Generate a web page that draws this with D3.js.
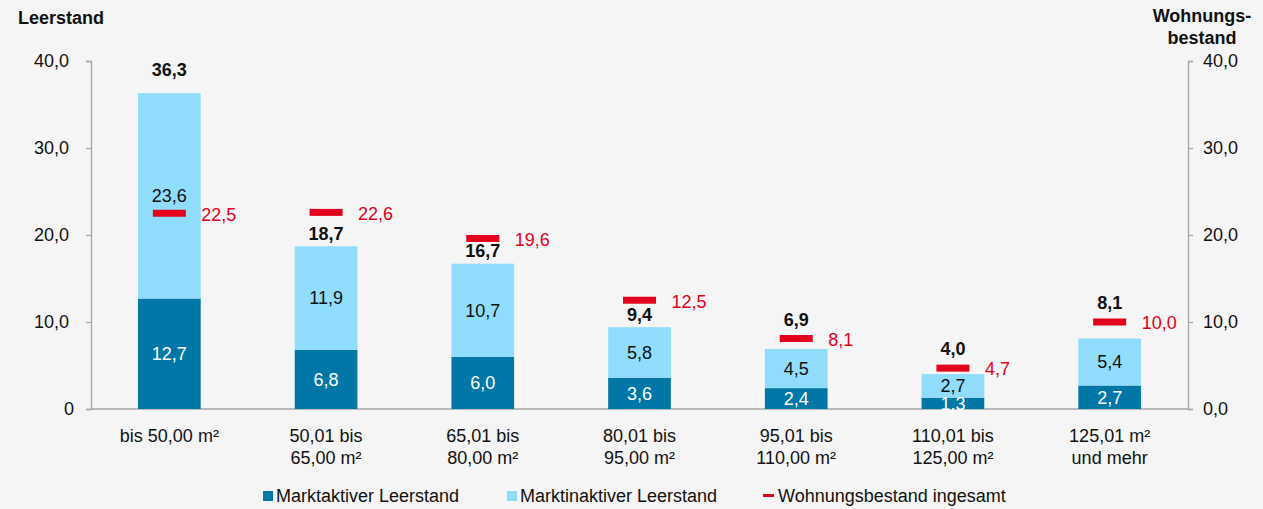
<!DOCTYPE html>
<html>
<head>
<meta charset="utf-8">
<script src="https://cdn.jsdelivr.net/npm/d3@7/dist/d3.min.js"></script>
<style>
  html, body { margin: 0; padding: 0; background: #f5f5f5; }
  svg { display: block; font-family: "Liberation Sans", Arial, sans-serif; }
</style>
</head>
<body>
<svg id="chart" width="1263" height="509"></svg>
<script>
// Leerstand nach Wohnungsgröße
const categories = [
  ["bis 50,00 m²"],
  ["50,01 bis", "65,00 m²"],
  ["65,01 bis", "80,00 m²"],
  ["80,01 bis", "95,00 m²"],
  ["95,01 bis", "110,00 m²"],
  ["110,01 bis", "125,00 m²"],
  ["125,01 m²", "und mehr"]
];
const marktaktiv   = [12.7, 6.8, 6.0, 3.6, 2.4, 1.3, 2.7];
const marktinaktiv = [23.6, 11.9, 10.7, 5.8, 4.5, 2.7, 5.4];
const totals       = [36.3, 18.7, 16.7, 9.4, 6.9, 4.0, 8.1];
const bestand      = [22.5, 22.6, 19.6, 12.5, 8.1, 4.7, 10.0];
const leftTicks  = [0, 10, 20, 30, 40];
const rightTicks = [0, 10, 20, 30, 40];
const legendItems = ["Marktaktiver Leerstand", "Marktinaktiver Leerstand", "Wohnungsbestand ingesamt"];

const colDark = "#0077a6", colLight = "#8fdcfd", colRed = "#e2001a", axisCol = "#a6a6a6";
const FS = 18;
const fmt = v => v.toFixed(1).replace(".", ",");

const svg = d3.select("#chart");
const plotLeft = 91, plotRight = 1188, plotTop = 61, plotBottom = 409;

const x = d3.scaleBand().domain(d3.range(categories.length)).range([plotLeft, plotRight])
  .paddingInner(0.6).paddingOuter(0.3);
const y = d3.scaleLinear().domain([0, 40]).range([plotBottom, plotTop]);

// axes
const yLeft = d3.axisLeft(y).tickValues(leftTicks).tickSize(5).tickPadding(17)
  .tickFormat(d => d === 0 ? "0" : fmt(d));
const gL = svg.append("g").attr("transform", `translate(${plotLeft},0)`).call(yLeft);
gL.selectAll(".tick text").filter(d => d === 0).attr("dx", 5);
const yRight = d3.axisRight(y).tickValues(rightTicks).tickSize(5).tickPadding(10).tickFormat(fmt);
const gR = svg.append("g").attr("transform", `translate(${plotRight},0)`).call(yRight);
[gL, gR].forEach(g => {
  g.select(".domain").attr("stroke", axisCol).attr("stroke-width", 1.3);
  g.selectAll(".tick line").attr("stroke", axisCol).attr("stroke-width", 1.3);
  g.selectAll(".tick text").attr("font-size", FS).attr("fill", "#111")
    .attr("font-family", "Liberation Sans, Arial, sans-serif");
});
// baseline
svg.append("line").attr("x1", plotLeft).attr("x2", plotRight).attr("y1", y(0)).attr("y2", y(0))
  .attr("stroke", axisCol).attr("stroke-width", 1.3);

// stacked bars
const g = svg.append("g");
categories.forEach((c, i) => {
  const bx = x(i), bw = x.bandwidth();
  g.append("rect").attr("x", bx).attr("width", bw)
    .attr("y", y(marktaktiv[i])).attr("height", y(0) - y(marktaktiv[i])).attr("fill", colDark);
  g.append("rect").attr("x", bx).attr("width", bw)
    .attr("y", y(marktaktiv[i] + marktinaktiv[i]))
    .attr("height", y(marktaktiv[i]) - y(marktaktiv[i] + marktinaktiv[i]))
    .attr("fill", colLight);
  const cx = bx + bw / 2;
  g.append("text").attr("x", cx).attr("y", y(marktaktiv[i] / 2)).attr("dy", "0.35em")
    .attr("text-anchor", "middle").attr("font-size", FS).attr("fill", "#fff").text(fmt(marktaktiv[i]));
  g.append("text").attr("x", cx).attr("y", y(marktaktiv[i] + marktinaktiv[i] / 2)).attr("dy", "0.35em")
    .attr("text-anchor", "middle").attr("font-size", FS).attr("fill", "#111").text(fmt(marktinaktiv[i]));

  // total label: above the bar, or above the marker when the marker sits just over the bar
  const barTop = y(totals[i]), markY = y(bestand[i]);
  let labelY;
  if (markY >= barTop) labelY = barTop - 23;
  else if (barTop - markY >= 20) labelY = barTop - 13;
  else labelY = markY - 19;
  g.append("text").attr("x", cx).attr("y", labelY).attr("dy", "0.35em")
    .attr("text-anchor", "middle").attr("font-size", FS).attr("font-weight", "bold").attr("fill", "#111")
    .text(fmt(totals[i]));

  // Wohnungsbestand marker
  g.append("rect").attr("x", cx - 16.5).attr("width", 33).attr("y", markY - 3.5).attr("height", 7)
    .attr("fill", colRed);
  g.append("text").attr("x", cx + 32).attr("y", markY + 1).attr("dy", "0.35em")
    .attr("font-size", FS).attr("fill", colRed).text(fmt(bestand[i]));

  // category label
  const t = g.append("text").attr("x", cx).attr("y", 436).attr("text-anchor", "middle")
    .attr("font-size", FS).attr("fill", "#111");
  c.forEach((line, k) => t.append("tspan").attr("x", cx).attr("dy", k === 0 ? "0.35em" : 22).text(line));
});

// axis titles
svg.append("text").attr("x", 18).attr("y", 24).attr("font-size", FS).attr("font-weight", "bold")
  .attr("fill", "#111").text("Leerstand");
const rt = svg.append("text").attr("x", 1202).attr("y", 22).attr("text-anchor", "middle")
  .attr("font-size", FS).attr("font-weight", "bold").attr("fill", "#111");
rt.append("tspan").attr("x", 1202).text("Wohnungs-");
rt.append("tspan").attr("x", 1202).attr("dy", 22).text("bestand");

// legend
const legX = [263, 507, 763];
const lg = svg.append("g");
legendItems.forEach((name, k) => {
  if (k < 2) {
    lg.append("rect").attr("x", legX[k]).attr("y", 491).attr("width", 10).attr("height", 10)
      .attr("fill", k === 0 ? colDark : colLight);
  } else {
    lg.append("rect").attr("x", legX[k]).attr("y", 494).attr("width", 11).attr("height", 3).attr("fill", colRed);
  }
  lg.append("text").attr("x", legX[k] + (k < 2 ? 13 : 15)).attr("y", 495.5).attr("dy", "0.35em")
    .attr("font-size", FS).attr("fill", "#111").text(name);
});
</script>
</body>
</html>
